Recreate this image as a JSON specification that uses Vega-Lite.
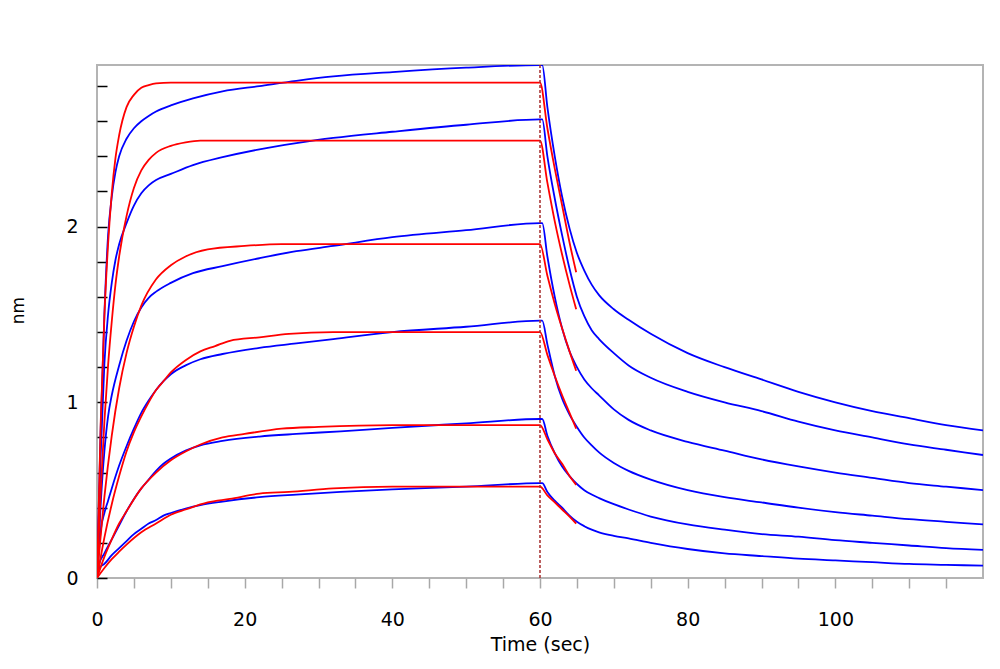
{
  "$schema": "https://vega.github.io/schema/vega-lite/v6.json",
  "width": 886,
  "height": 513,
  "autosize": {"type": "none"},
  "padding": {"left": 97, "top": 65, "right": 17, "bottom": 91},
  "background": "white",
  "config": {
    "view": {"stroke": "#b4b4b4", "strokeWidth": 2},
    "axis": {"labelFont": "DejaVu Sans", "titleFont": "DejaVu Sans", "labelColor": "#000000", "titleColor": "#000000", "titleFontWeight": "normal", "grid": false, "domain": false}
  },
  "datasets": {
    "curves": [
      {"s":"b1","k":"measured","t":0,"v":0},{"s":"b1","k":"measured","t":0.5,"v":0.85},{"s":"b1","k":"measured","t":1,"v":1.5},{"s":"b1","k":"measured","t":1.5,"v":1.95},{"s":"b1","k":"measured","t":2,"v":2.17},{"s":"b1","k":"measured","t":2.5,"v":2.31},{"s":"b1","k":"measured","t":3,"v":2.4},{"s":"b1","k":"measured","t":4,"v":2.5},{"s":"b1","k":"measured","t":5,"v":2.56},{"s":"b1","k":"measured","t":6,"v":2.6},{"s":"b1","k":"measured","t":7,"v":2.63},{"s":"b1","k":"measured","t":8,"v":2.655},{"s":"b1","k":"measured","t":10,"v":2.69},{"s":"b1","k":"measured","t":13,"v":2.73},{"s":"b1","k":"measured","t":17,"v":2.77},{"s":"b1","k":"measured","t":22,"v":2.8},{"s":"b1","k":"measured","t":27,"v":2.83},{"s":"b1","k":"measured","t":32,"v":2.855},{"s":"b1","k":"measured","t":40,"v":2.88},{"s":"b1","k":"measured","t":50,"v":2.905},{"s":"b1","k":"measured","t":60,"v":2.92},{"s":"b1","k":"measured","t":60.3,"v":2.92},{"s":"b1","k":"measured","t":61,"v":2.68},{"s":"b1","k":"measured","t":62,"v":2.4},{"s":"b1","k":"measured","t":63,"v":2.17},{"s":"b1","k":"measured","t":64,"v":1.99},{"s":"b1","k":"measured","t":65,"v":1.85},{"s":"b1","k":"measured","t":66,"v":1.75},{"s":"b1","k":"measured","t":67,"v":1.67},{"s":"b1","k":"measured","t":68,"v":1.61},{"s":"b1","k":"measured","t":70,"v":1.53},{"s":"b1","k":"measured","t":72,"v":1.47},{"s":"b1","k":"measured","t":75,"v":1.39},{"s":"b1","k":"measured","t":80,"v":1.28},{"s":"b1","k":"measured","t":85,"v":1.2},{"s":"b1","k":"measured","t":90,"v":1.13},{"s":"b1","k":"measured","t":95,"v":1.06},{"s":"b1","k":"measured","t":100,"v":1.0},{"s":"b1","k":"measured","t":105,"v":0.95},{"s":"b1","k":"measured","t":110,"v":0.91},{"s":"b1","k":"measured","t":115,"v":0.87},{"s":"b1","k":"measured","t":120,"v":0.84},
      {"s":"b2","k":"measured","t":0,"v":0},{"s":"b2","k":"measured","t":0.5,"v":0.7},{"s":"b2","k":"measured","t":1,"v":1.22},{"s":"b2","k":"measured","t":1.5,"v":1.5},{"s":"b2","k":"measured","t":2,"v":1.68},{"s":"b2","k":"measured","t":2.5,"v":1.81},{"s":"b2","k":"measured","t":3,"v":1.9},{"s":"b2","k":"measured","t":4,"v":2.02},{"s":"b2","k":"measured","t":5,"v":2.12},{"s":"b2","k":"measured","t":6,"v":2.19},{"s":"b2","k":"measured","t":7,"v":2.235},{"s":"b2","k":"measured","t":8,"v":2.265},{"s":"b2","k":"measured","t":10,"v":2.3},{"s":"b2","k":"measured","t":13,"v":2.35},{"s":"b2","k":"measured","t":17,"v":2.395},{"s":"b2","k":"measured","t":22,"v":2.44},{"s":"b2","k":"measured","t":27,"v":2.475},{"s":"b2","k":"measured","t":32,"v":2.505},{"s":"b2","k":"measured","t":40,"v":2.54},{"s":"b2","k":"measured","t":50,"v":2.58},{"s":"b2","k":"measured","t":60,"v":2.61},{"s":"b2","k":"measured","t":60.3,"v":2.61},{"s":"b2","k":"measured","t":61,"v":2.4},{"s":"b2","k":"measured","t":62,"v":2.16},{"s":"b2","k":"measured","t":63,"v":1.95},{"s":"b2","k":"measured","t":64,"v":1.76},{"s":"b2","k":"measured","t":65,"v":1.6},{"s":"b2","k":"measured","t":66,"v":1.49},{"s":"b2","k":"measured","t":67,"v":1.41},{"s":"b2","k":"measured","t":68,"v":1.36},{"s":"b2","k":"measured","t":70,"v":1.28},{"s":"b2","k":"measured","t":72,"v":1.21},{"s":"b2","k":"measured","t":75,"v":1.14},{"s":"b2","k":"measured","t":80,"v":1.06},{"s":"b2","k":"measured","t":85,"v":1.0},{"s":"b2","k":"measured","t":90,"v":0.95},{"s":"b2","k":"measured","t":95,"v":0.89},{"s":"b2","k":"measured","t":100,"v":0.84},{"s":"b2","k":"measured","t":105,"v":0.8},{"s":"b2","k":"measured","t":110,"v":0.76},{"s":"b2","k":"measured","t":115,"v":0.73},{"s":"b2","k":"measured","t":120,"v":0.7},
      {"s":"b3","k":"measured","t":0,"v":0},{"s":"b3","k":"measured","t":0.5,"v":0.42},{"s":"b3","k":"measured","t":1,"v":0.72},{"s":"b3","k":"measured","t":1.5,"v":0.92},{"s":"b3","k":"measured","t":2,"v":1.04},{"s":"b3","k":"measured","t":3,"v":1.21},{"s":"b3","k":"measured","t":4,"v":1.35},{"s":"b3","k":"measured","t":5,"v":1.46},{"s":"b3","k":"measured","t":6,"v":1.54},{"s":"b3","k":"measured","t":7,"v":1.595},{"s":"b3","k":"measured","t":8,"v":1.63},{"s":"b3","k":"measured","t":10,"v":1.68},{"s":"b3","k":"measured","t":13,"v":1.735},{"s":"b3","k":"measured","t":17,"v":1.775},{"s":"b3","k":"measured","t":22,"v":1.82},{"s":"b3","k":"measured","t":27,"v":1.86},{"s":"b3","k":"measured","t":32,"v":1.89},{"s":"b3","k":"measured","t":40,"v":1.94},{"s":"b3","k":"measured","t":50,"v":1.98},{"s":"b3","k":"measured","t":60,"v":2.02},{"s":"b3","k":"measured","t":60.3,"v":2.02},{"s":"b3","k":"measured","t":61,"v":1.83},{"s":"b3","k":"measured","t":62,"v":1.6},{"s":"b3","k":"measured","t":63,"v":1.42},{"s":"b3","k":"measured","t":64,"v":1.29},{"s":"b3","k":"measured","t":65,"v":1.2},{"s":"b3","k":"measured","t":66,"v":1.13},{"s":"b3","k":"measured","t":67,"v":1.08},{"s":"b3","k":"measured","t":68,"v":1.04},{"s":"b3","k":"measured","t":70,"v":0.96},{"s":"b3","k":"measured","t":72,"v":0.9},{"s":"b3","k":"measured","t":75,"v":0.84},{"s":"b3","k":"measured","t":80,"v":0.775},{"s":"b3","k":"measured","t":85,"v":0.725},{"s":"b3","k":"measured","t":90,"v":0.675},{"s":"b3","k":"measured","t":95,"v":0.635},{"s":"b3","k":"measured","t":100,"v":0.6},{"s":"b3","k":"measured","t":105,"v":0.57},{"s":"b3","k":"measured","t":110,"v":0.54},{"s":"b3","k":"measured","t":115,"v":0.52},{"s":"b3","k":"measured","t":120,"v":0.5},
      {"s":"b4","k":"measured","t":0,"v":0},{"s":"b4","k":"measured","t":0.5,"v":0.27},{"s":"b4","k":"measured","t":1,"v":0.37},{"s":"b4","k":"measured","t":1.5,"v":0.44},{"s":"b4","k":"measured","t":2,"v":0.51},{"s":"b4","k":"measured","t":3,"v":0.64},{"s":"b4","k":"measured","t":4,"v":0.75},{"s":"b4","k":"measured","t":5,"v":0.85},{"s":"b4","k":"measured","t":6,"v":0.94},{"s":"b4","k":"measured","t":7,"v":1.01},{"s":"b4","k":"measured","t":8,"v":1.07},{"s":"b4","k":"measured","t":9,"v":1.12},{"s":"b4","k":"measured","t":10,"v":1.16},{"s":"b4","k":"measured","t":12,"v":1.21},{"s":"b4","k":"measured","t":14,"v":1.245},{"s":"b4","k":"measured","t":17,"v":1.275},{"s":"b4","k":"measured","t":22,"v":1.31},{"s":"b4","k":"measured","t":27,"v":1.335},{"s":"b4","k":"measured","t":32,"v":1.36},{"s":"b4","k":"measured","t":40,"v":1.4},{"s":"b4","k":"measured","t":50,"v":1.43},{"s":"b4","k":"measured","t":60,"v":1.465},{"s":"b4","k":"measured","t":60.3,"v":1.465},{"s":"b4","k":"measured","t":61,"v":1.33},{"s":"b4","k":"measured","t":62,"v":1.15},{"s":"b4","k":"measured","t":63,"v":1.02},{"s":"b4","k":"measured","t":64,"v":0.93},{"s":"b4","k":"measured","t":65,"v":0.86},{"s":"b4","k":"measured","t":66,"v":0.8},{"s":"b4","k":"measured","t":67,"v":0.755},{"s":"b4","k":"measured","t":68,"v":0.715},{"s":"b4","k":"measured","t":70,"v":0.655},{"s":"b4","k":"measured","t":72,"v":0.61},{"s":"b4","k":"measured","t":75,"v":0.56},{"s":"b4","k":"measured","t":80,"v":0.5},{"s":"b4","k":"measured","t":85,"v":0.46},{"s":"b4","k":"measured","t":90,"v":0.43},{"s":"b4","k":"measured","t":95,"v":0.4},{"s":"b4","k":"measured","t":100,"v":0.375},{"s":"b4","k":"measured","t":105,"v":0.355},{"s":"b4","k":"measured","t":110,"v":0.335},{"s":"b4","k":"measured","t":115,"v":0.32},{"s":"b4","k":"measured","t":120,"v":0.305},
      {"s":"b5","k":"measured","t":0,"v":0},{"s":"b5","k":"measured","t":0.3,"v":0.08},{"s":"b5","k":"measured","t":1,"v":0.14},{"s":"b5","k":"measured","t":2,"v":0.22},{"s":"b5","k":"measured","t":3,"v":0.3},{"s":"b5","k":"measured","t":4,"v":0.38},{"s":"b5","k":"measured","t":5,"v":0.45},{"s":"b5","k":"measured","t":6,"v":0.51},{"s":"b5","k":"measured","t":7,"v":0.56},{"s":"b5","k":"measured","t":8,"v":0.61},{"s":"b5","k":"measured","t":9,"v":0.65},{"s":"b5","k":"measured","t":10,"v":0.68},{"s":"b5","k":"measured","t":12,"v":0.725},{"s":"b5","k":"measured","t":14,"v":0.755},{"s":"b5","k":"measured","t":17,"v":0.78},{"s":"b5","k":"measured","t":22,"v":0.805},{"s":"b5","k":"measured","t":27,"v":0.82},{"s":"b5","k":"measured","t":33,"v":0.835},{"s":"b5","k":"measured","t":40,"v":0.855},{"s":"b5","k":"measured","t":50,"v":0.88},{"s":"b5","k":"measured","t":60,"v":0.905},{"s":"b5","k":"measured","t":60.3,"v":0.905},{"s":"b5","k":"measured","t":61,"v":0.81},{"s":"b5","k":"measured","t":62,"v":0.71},{"s":"b5","k":"measured","t":63,"v":0.635},{"s":"b5","k":"measured","t":64,"v":0.58},{"s":"b5","k":"measured","t":65,"v":0.535},{"s":"b5","k":"measured","t":66,"v":0.5},{"s":"b5","k":"measured","t":67,"v":0.475},{"s":"b5","k":"measured","t":68,"v":0.455},{"s":"b5","k":"measured","t":70,"v":0.42},{"s":"b5","k":"measured","t":72,"v":0.39},{"s":"b5","k":"measured","t":75,"v":0.35},{"s":"b5","k":"measured","t":80,"v":0.305},{"s":"b5","k":"measured","t":85,"v":0.275},{"s":"b5","k":"measured","t":90,"v":0.25},{"s":"b5","k":"measured","t":95,"v":0.235},{"s":"b5","k":"measured","t":100,"v":0.215},{"s":"b5","k":"measured","t":105,"v":0.2},{"s":"b5","k":"measured","t":110,"v":0.185},{"s":"b5","k":"measured","t":115,"v":0.17},{"s":"b5","k":"measured","t":120,"v":0.16},
      {"s":"b6","k":"measured","t":0,"v":0},{"s":"b6","k":"measured","t":0.4,"v":0.06},{"s":"b6","k":"measured","t":1,"v":0.08},{"s":"b6","k":"measured","t":2,"v":0.13},{"s":"b6","k":"measured","t":3,"v":0.17},{"s":"b6","k":"measured","t":4,"v":0.21},{"s":"b6","k":"measured","t":5,"v":0.25},{"s":"b6","k":"measured","t":6,"v":0.28},{"s":"b6","k":"measured","t":7,"v":0.31},{"s":"b6","k":"measured","t":8,"v":0.33},{"s":"b6","k":"measured","t":9,"v":0.355},{"s":"b6","k":"measured","t":10,"v":0.37},{"s":"b6","k":"measured","t":12,"v":0.395},{"s":"b6","k":"measured","t":14,"v":0.415},{"s":"b6","k":"measured","t":17,"v":0.435},{"s":"b6","k":"measured","t":22,"v":0.46},{"s":"b6","k":"measured","t":27,"v":0.475},{"s":"b6","k":"measured","t":33,"v":0.49},{"s":"b6","k":"measured","t":40,"v":0.505},{"s":"b6","k":"measured","t":50,"v":0.52},{"s":"b6","k":"measured","t":60,"v":0.54},{"s":"b6","k":"measured","t":60.3,"v":0.54},{"s":"b6","k":"measured","t":61,"v":0.49},{"s":"b6","k":"measured","t":62,"v":0.44},{"s":"b6","k":"measured","t":63,"v":0.4},{"s":"b6","k":"measured","t":64,"v":0.355},{"s":"b6","k":"measured","t":65,"v":0.32},{"s":"b6","k":"measured","t":66,"v":0.295},{"s":"b6","k":"measured","t":67,"v":0.275},{"s":"b6","k":"measured","t":68,"v":0.26},{"s":"b6","k":"measured","t":70,"v":0.24},{"s":"b6","k":"measured","t":72,"v":0.225},{"s":"b6","k":"measured","t":75,"v":0.2},{"s":"b6","k":"measured","t":80,"v":0.165},{"s":"b6","k":"measured","t":85,"v":0.14},{"s":"b6","k":"measured","t":90,"v":0.125},{"s":"b6","k":"measured","t":95,"v":0.11},{"s":"b6","k":"measured","t":100,"v":0.1},{"s":"b6","k":"measured","t":105,"v":0.09},{"s":"b6","k":"measured","t":110,"v":0.08},{"s":"b6","k":"measured","t":115,"v":0.075},{"s":"b6","k":"measured","t":120,"v":0.07},
      {"s":"r1","k":"fit","t":0,"v":0},{"s":"r1","k":"fit","t":0.5,"v":0.88},{"s":"r1","k":"fit","t":1,"v":1.49},{"s":"r1","k":"fit","t":1.5,"v":1.9},{"s":"r1","k":"fit","t":2,"v":2.19},{"s":"r1","k":"fit","t":2.5,"v":2.39},{"s":"r1","k":"fit","t":3,"v":2.52},{"s":"r1","k":"fit","t":4,"v":2.68},{"s":"r1","k":"fit","t":5,"v":2.75},{"s":"r1","k":"fit","t":6,"v":2.79},{"s":"r1","k":"fit","t":7,"v":2.805},{"s":"r1","k":"fit","t":8,"v":2.815},{"s":"r1","k":"fit","t":10,"v":2.82},{"s":"r1","k":"fit","t":60,"v":2.82},{"s":"r1","k":"fit","t":61,"v":2.56},{"s":"r1","k":"fit","t":62,"v":2.33},{"s":"r1","k":"fit","t":63,"v":2.12},{"s":"r1","k":"fit","t":64,"v":1.91},{"s":"r1","k":"fit","t":64.9,"v":1.74},
      {"s":"r2","k":"fit","t":0,"v":0},{"s":"r2","k":"fit","t":0.5,"v":0.49},{"s":"r2","k":"fit","t":1,"v":0.89},{"s":"r2","k":"fit","t":1.5,"v":1.21},{"s":"r2","k":"fit","t":2,"v":1.46},{"s":"r2","k":"fit","t":2.5,"v":1.67},{"s":"r2","k":"fit","t":3,"v":1.83},{"s":"r2","k":"fit","t":4,"v":2.06},{"s":"r2","k":"fit","t":5,"v":2.22},{"s":"r2","k":"fit","t":6,"v":2.32},{"s":"r2","k":"fit","t":7,"v":2.38},{"s":"r2","k":"fit","t":8,"v":2.42},{"s":"r2","k":"fit","t":10,"v":2.46},{"s":"r2","k":"fit","t":12,"v":2.48},{"s":"r2","k":"fit","t":14,"v":2.49},{"s":"r2","k":"fit","t":60,"v":2.49},{"s":"r2","k":"fit","t":61,"v":2.25},{"s":"r2","k":"fit","t":62,"v":2.03},{"s":"r2","k":"fit","t":63,"v":1.84},{"s":"r2","k":"fit","t":64,"v":1.67},{"s":"r2","k":"fit","t":64.9,"v":1.53},
      {"s":"r3","k":"fit","t":0,"v":0},{"s":"r3","k":"fit","t":1,"v":0.46},{"s":"r3","k":"fit","t":2,"v":0.81},{"s":"r3","k":"fit","t":3,"v":1.08},{"s":"r3","k":"fit","t":4,"v":1.28},{"s":"r3","k":"fit","t":5,"v":1.43},{"s":"r3","k":"fit","t":6,"v":1.55},{"s":"r3","k":"fit","t":8,"v":1.7},{"s":"r3","k":"fit","t":10,"v":1.78},{"s":"r3","k":"fit","t":12,"v":1.83},{"s":"r3","k":"fit","t":15,"v":1.87},{"s":"r3","k":"fit","t":20,"v":1.89},{"s":"r3","k":"fit","t":25,"v":1.9},{"s":"r3","k":"fit","t":60,"v":1.9},{"s":"r3","k":"fit","t":61,"v":1.72},{"s":"r3","k":"fit","t":62,"v":1.56},{"s":"r3","k":"fit","t":63,"v":1.42},{"s":"r3","k":"fit","t":64,"v":1.29},{"s":"r3","k":"fit","t":64.9,"v":1.18},
      {"s":"r4","k":"fit","t":0,"v":0},{"s":"r4","k":"fit","t":1,"v":0.23},{"s":"r4","k":"fit","t":2,"v":0.42},{"s":"r4","k":"fit","t":3,"v":0.58},{"s":"r4","k":"fit","t":4,"v":0.72},{"s":"r4","k":"fit","t":5,"v":0.83},{"s":"r4","k":"fit","t":6,"v":0.92},{"s":"r4","k":"fit","t":7,"v":1.0},{"s":"r4","k":"fit","t":8,"v":1.07},{"s":"r4","k":"fit","t":9,"v":1.12},{"s":"r4","k":"fit","t":10,"v":1.17},{"s":"r4","k":"fit","t":12,"v":1.24},{"s":"r4","k":"fit","t":14,"v":1.29},{"s":"r4","k":"fit","t":16,"v":1.32},{"s":"r4","k":"fit","t":18,"v":1.35},{"s":"r4","k":"fit","t":22,"v":1.37},{"s":"r4","k":"fit","t":26,"v":1.39},{"s":"r4","k":"fit","t":32,"v":1.4},{"s":"r4","k":"fit","t":60,"v":1.4},{"s":"r4","k":"fit","t":61,"v":1.27},{"s":"r4","k":"fit","t":62,"v":1.15},{"s":"r4","k":"fit","t":63,"v":1.04},{"s":"r4","k":"fit","t":64,"v":0.94},{"s":"r4","k":"fit","t":64.9,"v":0.85},
      {"s":"r5","k":"fit","t":0,"v":0},{"s":"r5","k":"fit","t":1,"v":0.12},{"s":"r5","k":"fit","t":2,"v":0.22},{"s":"r5","k":"fit","t":3,"v":0.31},{"s":"r5","k":"fit","t":4,"v":0.38},{"s":"r5","k":"fit","t":6,"v":0.51},{"s":"r5","k":"fit","t":8,"v":0.6},{"s":"r5","k":"fit","t":10,"v":0.67},{"s":"r5","k":"fit","t":12,"v":0.72},{"s":"r5","k":"fit","t":14,"v":0.76},{"s":"r5","k":"fit","t":17,"v":0.8},{"s":"r5","k":"fit","t":20,"v":0.82},{"s":"r5","k":"fit","t":25,"v":0.85},{"s":"r5","k":"fit","t":30,"v":0.86},{"s":"r5","k":"fit","t":40,"v":0.87},{"s":"r5","k":"fit","t":60,"v":0.87},{"s":"r5","k":"fit","t":61,"v":0.79},{"s":"r5","k":"fit","t":62,"v":0.71},{"s":"r5","k":"fit","t":63,"v":0.65},{"s":"r5","k":"fit","t":64,"v":0.58},{"s":"r5","k":"fit","t":64.9,"v":0.53},
      {"s":"r6","k":"fit","t":0,"v":0},{"s":"r6","k":"fit","t":1,"v":0.057},{"s":"r6","k":"fit","t":2,"v":0.107},{"s":"r6","k":"fit","t":3,"v":0.15},{"s":"r6","k":"fit","t":4,"v":0.19},{"s":"r6","k":"fit","t":6,"v":0.26},{"s":"r6","k":"fit","t":8,"v":0.31},{"s":"r6","k":"fit","t":10,"v":0.36},{"s":"r6","k":"fit","t":12,"v":0.39},{"s":"r6","k":"fit","t":15,"v":0.43},{"s":"r6","k":"fit","t":18,"v":0.45},{"s":"r6","k":"fit","t":22,"v":0.48},{"s":"r6","k":"fit","t":26,"v":0.49},{"s":"r6","k":"fit","t":32,"v":0.51},{"s":"r6","k":"fit","t":40,"v":0.52},{"s":"r6","k":"fit","t":60,"v":0.52},{"s":"r6","k":"fit","t":61,"v":0.47},{"s":"r6","k":"fit","t":62,"v":0.43},{"s":"r6","k":"fit","t":63,"v":0.39},{"s":"r6","k":"fit","t":64,"v":0.35},{"s":"r6","k":"fit","t":64.9,"v":0.31}
    ],
    "cut": [{"t": 60}]
  },
  "encoding": {
    "x": {
      "field": "t", "type": "quantitative",
      "scale": {"domain": [0, 120], "nice": false, "zero": false},
      "axis": {
        "values": [0,5,10,15,20,25,30,35,40,45,50,55,60,65,70,75,80,85,90,95,100,105,110,115],
        "labelExpr": "datum.value % 20 === 0 ? datum.label : ''",
        "labelFlush": false, "labelOverlap": false, "labelBound": false,
        "tickSize": 10, "tickColor": "#a8a8a8", "tickWidth": 1.5,
        "labelPadding": 22, "labelFontSize": 19,
        "title": "Time (sec)", "titleFontSize": 19, "titlePadding": 6
      }
    }
  },
  "layer": [
    {
      "data": {"name": "curves"},
      "mark": {"type": "line", "strokeWidth": 1.8, "interpolate": "monotone", "clip": true},
      "encoding": {
        "y": {
          "field": "v", "type": "quantitative",
          "scale": {"domain": [0, 2.92], "nice": false},
          "axis": {
            "values": [0,0.2,0.4,0.6,0.8,1,1.2,1.4,1.6,1.8,2,2.2,2.4,2.6,2.8],
            "labelExpr": "datum.value === 0 ? '0' : datum.value === 1 ? '1' : datum.value === 2 ? '2' : ''",
            "labelOverlap": false, "labelFlush": false, "labelBound": false,
            "tickSize": -10, "tickColor": "#000000", "tickWidth": 1.5,
            "labelPadding": 29, "labelFontSize": 19,
            "title": "nm", "titleFontSize": 17, "titleX": -79, "titleY": 245, "titleAlign": "center", "titleBaseline": "middle", "titleAngle": -90
          }
        },
        "color": {"field": "k", "type": "nominal", "scale": {"domain": ["measured", "fit"], "range": ["#0000ff", "#ff0000"]}, "legend": null},
        "detail": {"field": "s", "type": "nominal"}
      }
    },
    {
      "data": {"name": "cut"},
      "mark": {"type": "rule", "color": "#a52a2a", "strokeWidth": 1.5, "strokeDash": [3, 2]},
      "encoding": {}
    }
  ]
}
